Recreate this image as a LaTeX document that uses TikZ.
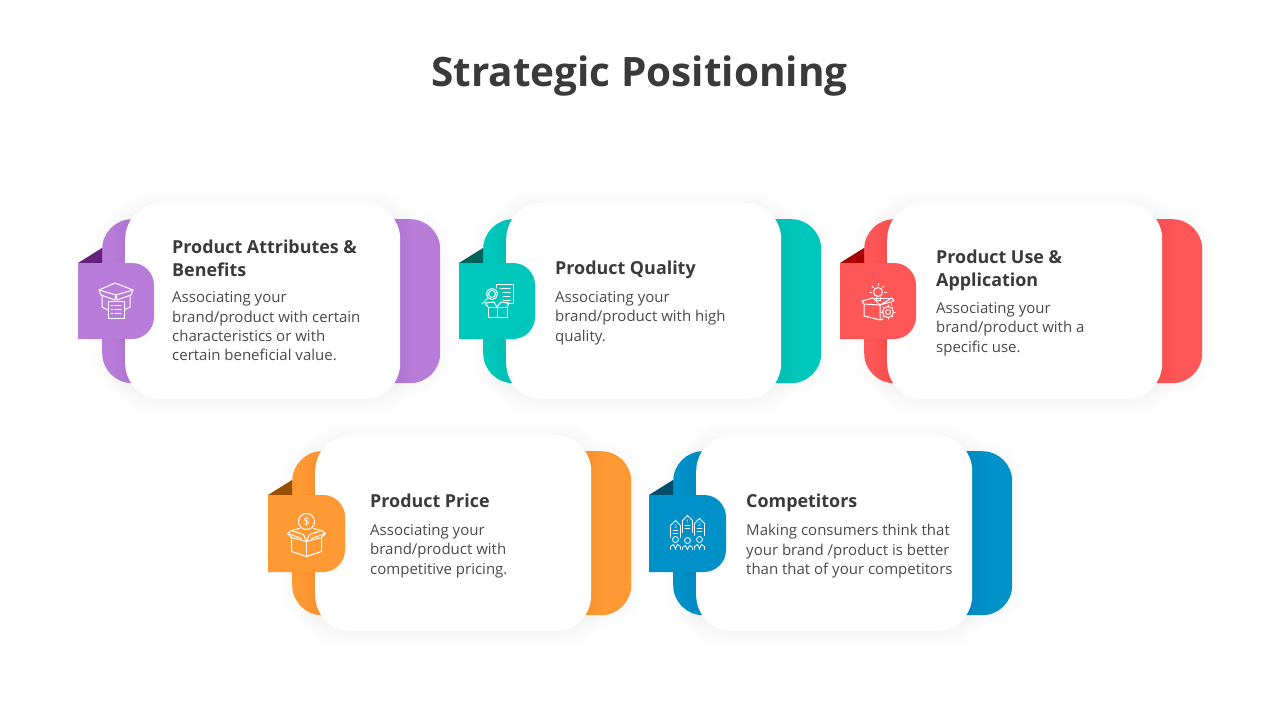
\documentclass[tikz,border=0pt]{standalone}
\usepackage{fontspec}
\setmainfont{Open Sans}
\usepackage{tikz}
\usetikzlibrary{positioning,calc}

\definecolor{cardpurple}{HTML}{B87CD9}
\definecolor{cardteal}{HTML}{00C7BB}
\definecolor{cardred}{HTML}{FF5757}
\definecolor{cardorange}{HTML}{FF9933}
\definecolor{cardblue}{HTML}{0091C8}
\definecolor{foldpurple}{HTML}{65207F}
\definecolor{foldteal}{HTML}{00635E}
\definecolor{foldred}{HTML}{A80000}
\definecolor{foldorange}{HTML}{994F00}
\definecolor{foldblue}{HTML}{004F6E}
\definecolor{headink}{HTML}{3A3A3A}
\definecolor{bodyink}{HTML}{4A4A4A}

\tikzset{
  backbox/.style={rectangle,rounded corners=30pt,minimum height=164pt,anchor=north west,inner sep=0pt},
  whitebox/.style={rectangle,rounded corners=36pt,fill=white,minimum height=196pt,anchor=north west,inner sep=0pt},
  cardhead/.style={anchor=north west,align=left,inner sep=0pt,text=headink,font=\fontsize{17.9}{23}\selectfont\bfseries},
  cardbody/.style={anchor=north west,align=left,inner sep=0pt,text=bodyink,font=\fontsize{15}{19.4}\selectfont},
  iconline/.style={draw=white,line width=1pt,line join=round,line cap=round},
  icontext/.style={inner sep=0pt,text=white}
}

\begin{document}
\begin{tikzpicture}[x=1pt,y=-1pt]
  \useasboundingbox[fill=white] (0,0) rectangle (1280,720);

  \node[text=headink,font=\fontsize{40.5}{46}\selectfont\bfseries] (title) at (639.5,76) {Strategic Positioning};

  % cards: number/tab corner/tab size/colour/fold colour
  \foreach \n/\x/\y/\t/\col/\dark in {
      1/78/263/76/cardpurple/foldpurple,
      2/459/263/76/cardteal/foldteal,
      3/840/263/76/cardred/foldred,
      4/268/495/77/cardorange/foldorange,
      5/649/495/77/cardblue/foldblue}{
    \begin{scope}[shift={(\x,\y)}]
      \foreach \s in {2,4,...,10}
        \fill[black,opacity=0.003,rounded corners=30pt] (24-\s,-44-\s+2) rectangle (286+\t+\s,120+\s+2);
      \node[backbox,fill=\col,minimum width=(262+\t)*1pt] (back\n) at (24,-44) {};
      \fill[\dark] (0,0) -- (24,-15) -- (24,0) -- cycle;
      \foreach \s in {2,4,...,14}
        \fill[black,opacity=0.004,rounded corners=36pt] (47-\s,-60-\s+2) rectangle (246+\t+\s,136+\s+2);
      \node[whitebox,minimum width=(199+\t)*1pt] (front\n) at (47,-60) {};
      \foreach \s in {1,2,3}
        \fill[black,opacity=0.003,rounded corners=22pt] (0,-\s+1) rectangle (\t+\s,\t+\s+1);
      \fill[\col] (0,0) [rounded corners=22pt] -- (\t,0) -- (\t,\t) [sharp corners] -- (0,\t) -- cycle;
      \coordinate (tab\n) at (\t/2,\t/2);
    \end{scope}
  }

  % texts
  \node[cardhead] (head1) at (172,239.5) {Product Attributes \&\\Benefits};
  \node[cardbody] (body1) at (172,291.5) {Associating your\\brand/product with certain\\characteristics or with\\certain beneficial value.};
  \node[cardhead] (head2) at (555,260.5) {Product Quality};
  \node[cardbody] (body2) at (555,291) {Associating your\\brand/product with high\\quality.};
  \node[cardhead] (head3) at (936,249.5) {Product Use \&\\Application};
  \node[cardbody] (body3) at (936,302) {Associating your\\brand/product with a\\specific use.};
  \node[cardhead] (head4) at (370,493.5) {Product Price};
  \node[cardbody] (body4) at (370,524) {Associating your\\brand/product with\\competitive pricing.};
  \node[cardhead] (head5) at (746,493.5) {Competitors};
  \node[cardbody] (body5) at (746,524) {Making consumers think that\\your brand /product is better\\than that of your competitors};

  % icon: box with list
  \begin{scope}[shift={(tab1)},iconline]
    \draw (-17,-11) -- (-1,-18) -- (17,-11) -- (0,-6) -- cycle;
    \draw (-17,-11) -- (-15,-6) -- (-1,-1) -- (0,-6) -- (1,-1) -- (15,-6) -- (17,-11);
    \draw (-14,-6) -- (-14,6) -- (-8,9);
    \draw (14,-6) -- (14,6) -- (8,9);
    \draw[fill=cardpurple] (-8,0) rectangle (8,17);
    \foreach \r in {4,8,12}
      \draw (-1,\r) -- (5,\r) (-5,\r) -- (-3,\r);
  \end{scope}

  % icon: magnifier, sheet, box
  \begin{scope}[shift={(tab2)},iconline]
    \draw (-1,-13) -- (-1,-17) -- (16,-17) -- (16,2) -- (10,2);
    \draw (3,-13) -- (13,-13);
    \foreach \r in {-9,-5,-1}
      \draw (6,\r) -- (13,\r);
    \draw (-5,-7) circle (5.5);
    \draw (-5,-7) circle (3.5);
    \draw (-9,-3) -- (-15,3);
    \draw (-9,6) rectangle (10,16);
    \draw (0,6) -- (0,16);
    \draw (-9,6) -- (-12,2) -- (-3,1) -- (0,6) -- (4,1) -- (12,2) -- (10,6);
  \end{scope}

  % icon: bulb, box, gear
  \begin{scope}[shift={(tab3)},iconline]
    \draw (0,-9) circle (4.5);
    \draw (-2,-4) -- (-2,-1) -- (2,-1) -- (2,-4);
    \foreach \a in {180,225,270,315,360}
      \draw ($(0,-9)+(\a:6.5)$) -- ($(0,-9)+(\a:8.5)$);
    \draw (-14,3) -- (-14,15) -- (2,19) -- (2,4) -- cycle;
    \draw (2,19) -- (5,18);
    \draw (13,4) -- (13,2);
    \draw (-14,3) -- (-16,0) -- (-5,-3) -- (2,4) -- (14,-3) -- (16,0) -- (2,4);
    \draw (-5,-3) -- (14,-3);
    \draw[fill=cardred] (10,11) circle (5.5);
    \draw (10,11) circle (2.5);
    \foreach \a in {0,45,...,315}
      \draw ($(10,11)+(\a:5.5)$) -- ($(10,11)+(\a:7)$);
  \end{scope}

  % icon: coin over box
  \begin{scope}[shift={(tab4)},iconline]
    \draw (0,-12) circle (8);
    \node[icontext,font=\fontsize{11}{11}\selectfont] (coin4) at (0,-12) {\$};
    \draw (-15,4) -- (-15,18) -- (0,23) -- (15,18) -- (15,4);
    \draw (0,8) -- (0,23);
    \draw (-15,4) -- (0,8) -- (15,4);
    \draw (-15,4) -- (-19,0) -- (-15,-3) -- (-7,-5);
    \draw (15,4) -- (19,0) -- (15,-3) -- (7,-5);
    \draw (-15,-3) -- (-3,1) -- (0,8) -- (3,1) -- (15,-3);
    \draw (-19,0) -- (-5,5);
    \draw (19,0) -- (5,5);
  \end{scope}

  % icon: three houses and people
  \begin{scope}[shift={(tab5)},iconline,line width=0.8pt]
    \foreach \h/\c/\e/\f in {-12/-8/a/3,0/-13/b/1,12/-10/c/2}{
      \draw (\h-5,\c+12) -- (\h-5,\c) -- (\h,\c-5) -- (\h+5,\c) -- (\h+5,\c+12);
      \node[icontext,font=\fontsize{5}{5}\selectfont] (digit\e) at (\h,\c+1) {\f};
      \draw (\h-2.5,\c+5) -- (\h+2.5,\c+5) (\h-2.5,\c+8) -- (\h+2.5,\c+8);
    }
    \foreach \h/\t in {-12/3,0/4,12/3}{
      \draw (\h,\t+3) circle (3);
      \draw (\h-5,16) -- (\h-5,\t+10) -- (\h-2,\t+8) -- (\h,\t+12) -- (\h+2,\t+8) -- (\h+5,\t+10) -- (\h+5,16);
      \draw (\h,\t+12) -- (\h,16);
    }
  \end{scope}
\end{tikzpicture}
\end{document}
